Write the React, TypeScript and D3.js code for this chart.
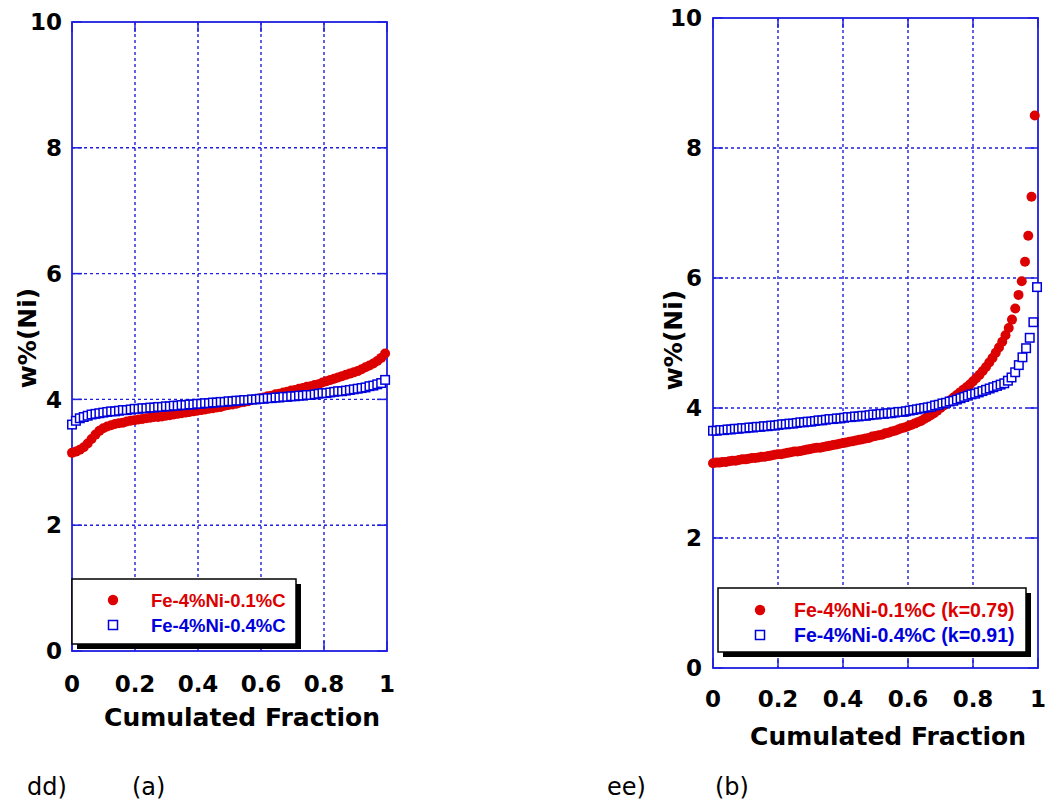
import React from "react";
import * as d3 from "d3";

// ---------- axis ticks ----------
const xTicks = [0, 0.2, 0.4, 0.6, 0.8, 1];
const xTickLabels = ["0", "0.2", "0.4", "0.6", "0.8", "1"];
const yTicks = [0, 2, 4, 6, 8, 10];
const yTickLabels = ["0", "2", "4", "6", "8", "10"];
const xTitle = "Cumulated Fraction";
const yTitle = "w%(Ni)";

// ---------- panel (a): Fe-4%Ni-0.1%C and Fe-4%Ni-0.4%C ----------
const leftLegend = ["Fe-4%Ni-0.1%C", "Fe-4%Ni-0.4%C"];
const leftRedLastFraction = 0.994;
const leftRed = [
  3.15, 3.17, 3.2, 3.24, 3.3, 3.37, 3.44, 3.5, 3.54, 3.57,
  3.59, 3.61, 3.62, 3.63, 3.65, 3.66, 3.67, 3.68, 3.69, 3.7,
  3.71, 3.72, 3.72, 3.73, 3.74, 3.75, 3.76, 3.77, 3.78, 3.79,
  3.8, 3.81, 3.82, 3.83, 3.84, 3.85, 3.86, 3.87, 3.88, 3.9,
  3.91, 3.92, 3.93, 3.95, 3.96, 3.97, 3.99, 4.0, 4.02, 4.03,
  4.05, 4.06, 4.08, 4.09, 4.11, 4.12, 4.14, 4.15, 4.17, 4.18,
  4.2, 4.21, 4.23, 4.24, 4.27, 4.29, 4.31, 4.33, 4.35, 4.37,
  4.39, 4.41, 4.43, 4.45, 4.48, 4.51, 4.54, 4.57, 4.61, 4.66,
  4.73,
];
const leftBlueLastFraction = 0.994;
const leftBlue = [
  3.6, 3.66, 3.7, 3.72, 3.74, 3.76, 3.77, 3.78, 3.79, 3.8,
  3.81, 3.81, 3.82, 3.83, 3.83, 3.84, 3.85, 3.85, 3.86, 3.86,
  3.87, 3.87, 3.88, 3.88, 3.89, 3.89, 3.9, 3.9, 3.91, 3.91,
  3.92, 3.92, 3.93, 3.93, 3.94, 3.94, 3.95, 3.95, 3.96, 3.96,
  3.97, 3.97, 3.98, 3.98, 3.99, 3.99, 4.0, 4.0, 4.01, 4.01,
  4.02, 4.02, 4.03, 4.03, 4.04, 4.04, 4.05, 4.05, 4.06, 4.06,
  4.07, 4.07, 4.08, 4.09, 4.1, 4.1, 4.11, 4.12, 4.13, 4.13,
  4.14, 4.15, 4.16, 4.17, 4.18, 4.19, 4.21, 4.22, 4.24, 4.26,
  4.31,
];

// ---------- panel (b): with partition coefficients ----------
const rightLegend = ["Fe-4%Ni-0.1%C (k=0.79)", "Fe-4%Ni-0.4%C (k=0.91)"];
const rightRedLastFraction = 0.99;
const rightRed = [
  3.15, 3.16, 3.16, 3.17, 3.17, 3.18, 3.19, 3.19, 3.2, 3.21,
  3.21, 3.22, 3.23, 3.23, 3.24, 3.25, 3.25, 3.26, 3.27, 3.28,
  3.29, 3.29, 3.3, 3.31, 3.32, 3.33, 3.33, 3.34, 3.35, 3.36,
  3.37, 3.38, 3.39, 3.39, 3.4, 3.41, 3.42, 3.43, 3.44, 3.45,
  3.46, 3.47, 3.48, 3.49, 3.5, 3.51, 3.52, 3.53, 3.54, 3.56,
  3.57, 3.58, 3.59, 3.61, 3.62, 3.64, 3.65, 3.67, 3.69, 3.7,
  3.72, 3.74, 3.76, 3.78, 3.8, 3.83, 3.86, 3.89, 3.92, 3.96,
  4.0, 4.04, 4.08, 4.12, 4.16, 4.2, 4.24, 4.28, 4.32, 4.36,
  4.41, 4.46, 4.51, 4.57, 4.63, 4.7, 4.77, 4.85, 4.93, 5.02,
  5.12, 5.23, 5.36, 5.53, 5.74, 5.95, 6.25, 6.65, 7.25, 8.5,
];
const rightBlueLastFraction = 0.997;
const rightBlue = [
  3.65, 3.65, 3.66, 3.66, 3.67, 3.67, 3.68, 3.68, 3.69, 3.69,
  3.7, 3.7, 3.71, 3.71, 3.72, 3.72, 3.73, 3.73, 3.74, 3.75,
  3.75, 3.76, 3.76, 3.77, 3.78, 3.78, 3.79, 3.79, 3.8, 3.81,
  3.81, 3.82, 3.83, 3.83, 3.84, 3.84, 3.85, 3.86, 3.86, 3.87,
  3.87, 3.88, 3.88, 3.89, 3.9, 3.9, 3.91, 3.91, 3.92, 3.92,
  3.93, 3.94, 3.94, 3.95, 3.96, 3.97, 3.98, 3.99, 4.0, 4.01,
  4.02, 4.04, 4.05, 4.07, 4.08, 4.1, 4.11, 4.13, 4.15, 4.17,
  4.19, 4.21, 4.22, 4.24, 4.26, 4.28, 4.3, 4.32, 4.34, 4.36,
  4.38, 4.42, 4.47, 4.55, 4.66, 4.78, 4.92, 5.08, 5.32, 5.86,
];

const RED = "#dc0000";
const BLUE = "#0000dc";
const FRAME = "#1f1fe0";
const TICK_FONT = "'DejaVu Sans', Arial, sans-serif";
const LEGEND_FONT = "'Liberation Sans', Arial, sans-serif";

type Cfg = {
  left: number; right: number; top: number; bottom: number;
  red: number[]; redLast: number; blue: number[]; blueLast: number;
  legend: string[]; legendFont: number;
  legBox: [number, number, number, number];
  legMarkerX: number; legTextX: number; legRowY: [number, number];
  yLabelRight: number; xLabelBaseline: number;
  xTitleX: number; xTitleBaseline: number; yTitleX: number; yTitleY: number;
  tag: string; tagX: number; sub: string; subX: number;
};

function withFractions(vals: number[], last: number) {
  const f = d3.scaleLinear().domain([0, vals.length - 1]).range([0, last]);
  return vals.map((v, i) => ({ f: f(i), v }));
}

function Panel({ c }: { c: Cfg }) {
  const x = d3.scaleLinear().domain([0, 1]).range([c.left, c.right]);
  const y = d3.scaleLinear().domain([0, 10]).range([c.bottom, c.top]);
  const red = withFractions(c.red, c.redLast);
  const blue = withFractions(c.blue, c.blueLast);
  const tickLen = 10;
  const sq = 8.5;
  const [bx, by, bw, bh] = c.legBox;
  return (
    <g>
      {/* dotted grid */}
      {xTicks.slice(1, -1).map((t) => (
        <line key={"gx" + t} x1={x(t)} x2={x(t)} y1={c.top} y2={c.bottom}
          stroke={FRAME} strokeWidth={1.4} strokeDasharray="3,3" />
      ))}
      {yTicks.slice(1, -1).map((t) => (
        <line key={"gy" + t} x1={c.left} x2={c.right} y1={y(t)} y2={y(t)}
          stroke={FRAME} strokeWidth={1.4} strokeDasharray="3,3" />
      ))}
      {/* inner ticks on all sides */}
      {xTicks.map((t) => (
        <g key={"tx" + t}>
          <line x1={x(t)} x2={x(t)} y1={c.bottom} y2={c.bottom - tickLen} stroke={FRAME} strokeWidth={1.5} />
          <line x1={x(t)} x2={x(t)} y1={c.top} y2={c.top + tickLen} stroke={FRAME} strokeWidth={1.5} />
        </g>
      ))}
      {yTicks.map((t) => (
        <g key={"ty" + t}>
          <line x1={c.left} x2={c.left + tickLen} y1={y(t)} y2={y(t)} stroke={FRAME} strokeWidth={1.5} />
          <line x1={c.right} x2={c.right - tickLen} y1={y(t)} y2={y(t)} stroke={FRAME} strokeWidth={1.5} />
        </g>
      ))}
      {/* frame */}
      <rect x={c.left} y={c.top} width={c.right - c.left} height={c.bottom - c.top}
        fill="none" stroke={FRAME} strokeWidth={1.8} />
      {/* data */}
      {red.map((d, i) => (
        <circle key={"r" + i} cx={x(d.f)} cy={y(d.v)} r={5} fill={RED} />
      ))}
      {blue.map((d, i) => (
        <rect key={"b" + i} x={x(d.f) - sq / 2} y={y(d.v) - sq / 2} width={sq} height={sq}
          fill="#fff" stroke={BLUE} strokeWidth={1.5} />
      ))}
      {/* tick labels */}
      {xTicks.map((t, i) => (
        <text key={"lx" + t} x={x(t)} y={c.xLabelBaseline} textAnchor="middle"
          fontFamily={TICK_FONT} fontWeight="bold" fontSize={23} fill="#000">{xTickLabels[i]}</text>
      ))}
      {yTicks.map((t, i) => (
        <text key={"ly" + t} x={c.yLabelRight} y={y(t)} dy="0.36em" textAnchor="end"
          fontFamily={TICK_FONT} fontWeight="bold" fontSize={23} fill="#000">{yTickLabels[i]}</text>
      ))}
      {/* titles */}
      <text x={c.xTitleX} y={c.xTitleBaseline} textAnchor="middle" fontFamily={TICK_FONT}
        fontWeight="bold" fontSize={25} fill="#000">{xTitle}</text>
      <text transform={`translate(${c.yTitleX},${c.yTitleY}) rotate(-90)`} textAnchor="middle"
        dy="0.36em" fontFamily={TICK_FONT} fontWeight="bold" fontSize={25} fill="#000">{yTitle}</text>
      {/* legend */}
      <rect x={bx + 5} y={by + 5} width={bw} height={bh} fill="#000" />
      <rect x={bx} y={by} width={bw} height={bh} fill="#fff" stroke="#000" strokeWidth={1.5} />
      <circle cx={c.legMarkerX} cy={c.legRowY[0]} r={5.2} fill={RED} />
      <rect x={c.legMarkerX - 4.5} y={c.legRowY[1] - 4.5} width={9} height={9} fill="#fff" stroke={BLUE} strokeWidth={1.5} />
      <text x={c.legTextX} y={c.legRowY[0]} dy="0.36em" fontFamily={LEGEND_FONT} fontWeight="bold"
        fontSize={c.legendFont} fill={RED}>{c.legend[0]}</text>
      <text x={c.legTextX} y={c.legRowY[1]} dy="0.36em" fontFamily={LEGEND_FONT} fontWeight="bold"
        fontSize={c.legendFont} fill={BLUE}>{c.legend[1]}</text>
      {/* panel tags */}
      <text x={c.tagX} y={795} fontFamily="'DejaVu Sans', sans-serif" fontSize={24} fill="#000">{c.tag}</text>
      <text x={c.subX} y={795} fontFamily="'DejaVu Sans', sans-serif" fontSize={24} fill="#000">{c.sub}</text>
    </g>
  );
}

const leftCfg: Cfg = {
  left: 72, right: 387, top: 22, bottom: 651,
  red: leftRed, redLast: leftRedLastFraction, blue: leftBlue, blueLast: leftBlueLastFraction,
  legend: leftLegend, legendFont: 18.5,
  legBox: [72, 579, 224, 65],
  legMarkerX: 113, legTextX: 151, legRowY: [600, 625],
  yLabelRight: 62, xLabelBaseline: 692,
  xTitleX: 242, xTitleBaseline: 726, yTitleX: 27, yTitleY: 338,
  tag: "dd)", tagX: 27, sub: "(a)", subX: 132,
};

const rightCfg: Cfg = {
  left: 713, right: 1038, top: 18, bottom: 668,
  red: rightRed, redLast: rightRedLastFraction, blue: rightBlue, blueLast: rightBlueLastFraction,
  legend: rightLegend, legendFont: 19.5,
  legBox: [718, 588, 308, 64],
  legMarkerX: 760, legTextX: 794, legRowY: [610, 635],
  yLabelRight: 702, xLabelBaseline: 707,
  xTitleX: 888, xTitleBaseline: 745, yTitleX: 673, yTitleY: 340,
  tag: "ee)", tagX: 607, sub: "(b)", subX: 715,
};

export default function App() {
  return (
    <svg width={1050} height={800} viewBox="0 0 1050 800"
      style={{ position: "absolute", left: 0, top: 0, background: "#fff" }}>
      <rect x={0} y={0} width={1050} height={800} fill="#fff" />
      <Panel c={leftCfg} />
      <Panel c={rightCfg} />
    </svg>
  );
}
